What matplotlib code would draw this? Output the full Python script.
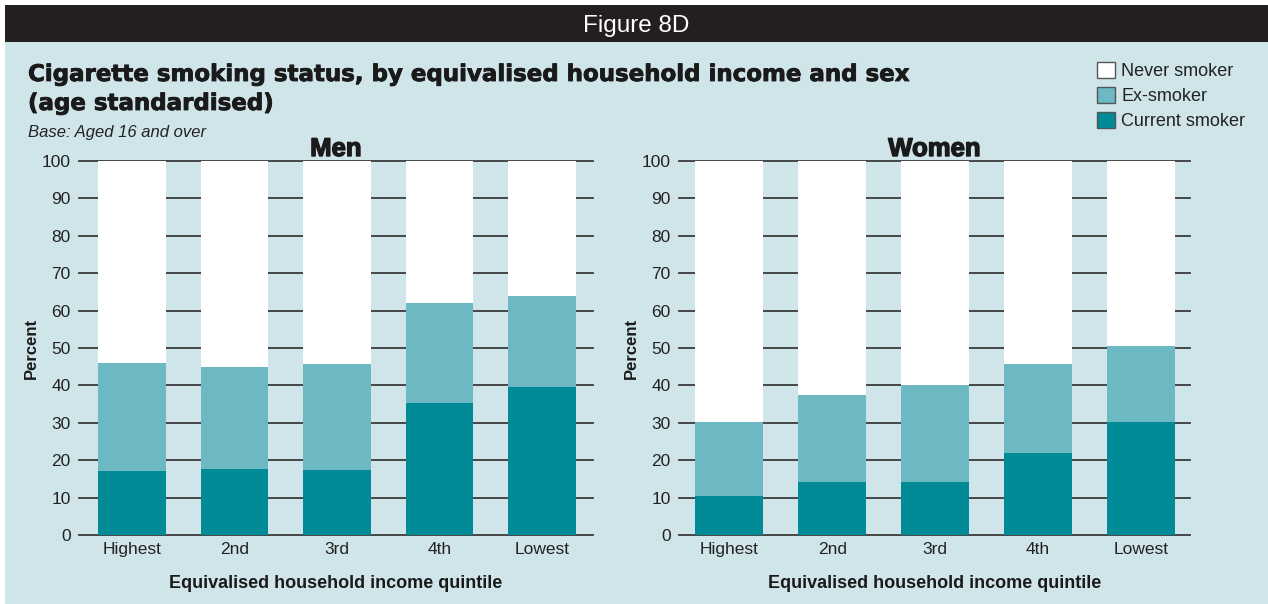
import matplotlib

matplotlib.use("Agg")
import matplotlib.pyplot as plt
import matplotlib.patheffects as pe
from matplotlib.patches import Patch, Rectangle

quintiles = ["Highest", "2nd", "3rd", "4th", "Lowest"]
series = ["Never smoker", "Ex-smoker", "Current smoker"]

# cumulative tops (percent)
men_current = [17.1, 17.7, 17.4, 35.4, 39.6]
men_ex_top = [46.1, 45.0, 45.8, 62.1, 64.0]
women_current = [10.4, 14.2, 14.2, 22.0, 30.3]
women_ex_top = [30.3, 37.5, 40.2, 45.8, 50.6]

BG = "#cfe5ea"
HEADER = "#231f20"
C_NEVER = "#ffffff"
C_EX = "#6cb8c3"
C_CUR = "#008b96"
GRID = "#3a3a3a"
INK = "#1a1a1a"

plt.rcParams["font.family"] = ["Liberation Sans", "DejaVu Sans"]
heavy = [pe.withStroke(linewidth=1.0, foreground=INK)]
heavy_t = [pe.withStroke(linewidth=0.6, foreground=INK)]

fig = plt.figure(figsize=(12.68, 6.04), dpi=100)
fig.patch.set_facecolor("white")

# panel background and header bar
fig.patches.append(Rectangle((5 / 1268, 0.0), 1 - 5 / 1268, 1 - 5 / 604,
                             transform=fig.transFigure, facecolor=BG, edgecolor="none", zorder=-10))
fig.patches.append(Rectangle((5 / 1268, 1 - 42 / 604), 1 - 5 / 1268, 37 / 604,
                             transform=fig.transFigure, facecolor=HEADER, edgecolor="none", zorder=-9))
fig.text(636 / 1268, 1 - 26 / 604, "Figure 8D", color="white", fontsize=17.5,
         ha="center", va="center")

fig.text(28 / 1268, 1 - 81 / 604,
         "Cigarette smoking status, by equivalised household income and sex",
         fontsize=16.5, fontweight="bold", family="DejaVu Sans", ha="left",
         va="baseline", color=INK, path_effects=heavy_t)
fig.text(28 / 1268, 1 - 110 / 604, "(age standardised)",
         fontsize=16.5, fontweight="bold", family="DejaVu Sans", ha="left",
         va="baseline", color=INK, path_effects=heavy_t)
fig.text(28 / 1268, 1 - 132 / 604, "Base: Aged 16 and over", fontsize=12,
         style="italic", ha="left", va="center", color="#222222")


def draw_panel(ax, current, ex_top, title, xlim):
    x = range(len(quintiles))
    ex = [t - c for t, c in zip(ex_top, current)]
    never = [100 - t for t in ex_top]
    ax.bar(x, current, width=0.66, color=C_CUR, zorder=3)
    ax.bar(x, ex, bottom=current, width=0.66, color=C_EX, zorder=3)
    ax.bar(x, never, bottom=ex_top, width=0.66, color=C_NEVER, zorder=3)

    ax.set_facecolor("none")
    ax.set_xlim(*xlim)
    ax.set_ylim(0, 100)
    ax.set_yticks(range(0, 101, 10))
    ax.set_xticks(list(x))
    ax.set_xticklabels(quintiles)
    ax.tick_params(axis="both", length=0, labelsize=12.5, colors="#222222")
    ax.tick_params(axis="y", pad=6)
    ax.tick_params(axis="x", pad=5)
    for s in ax.spines.values():
        s.set_visible(False)
    ax.yaxis.grid(True, color=GRID, linewidth=1.3)
    for gl in ax.get_ygridlines():
        gl.set_clip_on(False)
    ax.set_axisbelow(True)

    ax.set_ylabel("Percent", fontsize=12, fontweight="bold", labelpad=2, color=INK)
    ax.set_xlabel("Equivalised household income quintile", fontsize=13,
                  fontweight="bold", labelpad=13, color=INK)
    ax.set_title(title, fontsize=18.5, fontweight="bold", pad=3, color=INK,
                 path_effects=heavy)


ax_men = fig.add_axes([79 / 1268, 69 / 604, 514 / 1268, 374 / 604])
draw_panel(ax_men, men_current, men_ex_top, "Men", (-0.52, 4.5))

ax_women = fig.add_axes([679 / 1268, 69 / 604, 511 / 1268, 374 / 604])
draw_panel(ax_women, women_current, women_ex_top, "Women", (-0.49, 4.48))

handles = [Patch(facecolor=c, edgecolor="#555555", linewidth=1.0)
           for c in (C_NEVER, C_EX, C_CUR)]
fig.legend(handles, series, loc="upper left", bbox_to_anchor=(1097 / 1268, 1 - 62 / 604),
           frameon=False, fontsize=13, handlelength=1.0, handleheight=1.0,
           handletextpad=0.35, labelspacing=0.36, borderpad=0, borderaxespad=0,
           labelcolor="#222222")

fig.savefig("out.png", dpi=100, facecolor=fig.get_facecolor())
